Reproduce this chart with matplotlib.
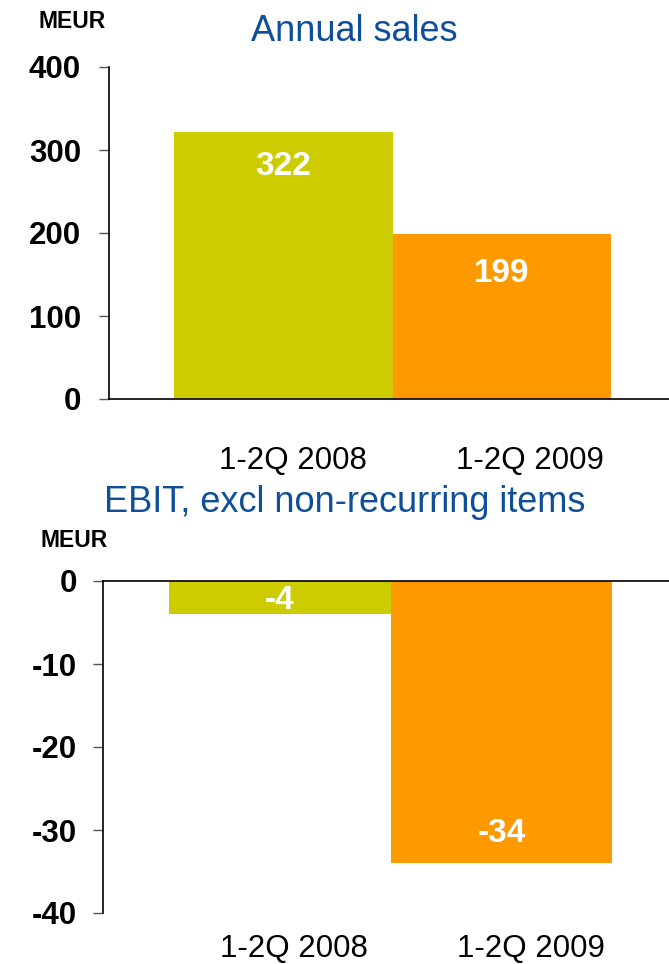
import matplotlib
matplotlib.use("Agg")
import matplotlib.pyplot as plt

# data
periods = ["1-2Q 2008", "1-2Q 2009"]
sales = [322, 199]
ebit = [-4, -34]
bar_colors = ["#CCCC00", "#FF9900"]
title_blue = "#0F4F9A"

plt.rcParams["font.family"] = ["Liberation Sans", "DejaVu Sans"]
plt.rcParams["axes.unicode_minus"] = False

W, H = 669, 964
fig = plt.figure(figsize=(W / 100, H / 100), dpi=100)


def box(left, right, top, bottom):
    # pixel box -> figure fraction
    return [left / W, 1 - bottom / H, (right - left) / W, (bottom - top) / H]


def style_axis(ax, pad):
    ax.spines["right"].set_visible(False)
    ax.spines["left"].set_linewidth(1.2)
    ax.tick_params(axis="y", length=7.2, width=1, color="#555555", pad=pad,
                   labelsize=22.5)
    for lab in ax.get_yticklabels():
        lab.set_fontweight("bold")
    ax.tick_params(axis="x", length=0, labelsize=22.5)


# ---- top: annual sales ----
ax1 = fig.add_axes(box(109, 669, 67, 399))
x = [0, 1]
ax1.bar(x, sales, width=1.0, color=bar_colors)
ax1.set_xlim(-0.797, 1.763)
ax1.set_ylim(0, 400)
ax1.set_yticks([0, 100, 200, 300, 400])
ax1.spines["top"].set_visible(False)
ax1.spines["bottom"].set_linewidth(1.2)
ax1.set_xticks([0.046, 1.128], periods)
style_axis(ax1, 13)
ax1.tick_params(axis="x", pad=34)
for xi, v, off in zip(x, sales, [-35, -40]):
    ax1.annotate(str(v), (xi, v), xytext=(0, off), textcoords="offset pixels",
                 ha="center", va="center", color="white", fontsize=24,
                 fontweight="bold")

fig.text(354 / W, 1 - 41 / H, "Annual sales", ha="center", va="baseline",
         fontsize=26, color=title_blue)
fig.text(38 / W, 1 - 28 / H, "MEUR", ha="left", va="baseline",
         fontsize=16.5, fontweight="bold")

# ---- bottom: EBIT ----
ax2 = fig.add_axes(box(103, 669, 581, 913))
ax2.bar(x, ebit, width=1.0, color=bar_colors)
ax2.set_xlim(-0.799, 1.756)
ax2.set_ylim(-40, 0)
ax2.set_yticks([0, -10, -20, -30, -40])
ax2.spines["bottom"].set_visible(False)
ax2.spines["top"].set_linewidth(1.2)
ax2.set_xticks([0.062, 1.133], periods)
style_axis(ax2, 11.5)
ax2.tick_params(axis="x", pad=15)
ax2.annotate(str(ebit[0]), (x[0], ebit[0] / 2), xytext=(0, -3),
             textcoords="offset pixels", ha="center", va="center",
             color="white", fontsize=24, fontweight="bold")
ax2.annotate(str(ebit[1]), (x[1], ebit[1]), xytext=(0, 30),
             textcoords="offset pixels", ha="center", va="center",
             color="white", fontsize=24, fontweight="bold")

fig.text(345 / W, 1 - 512 / H, "EBIT, excl non-recurring items", ha="center",
         va="baseline", fontsize=26, color=title_blue)
fig.text(40 / W, 1 - 547 / H, "MEUR", ha="left", va="baseline",
         fontsize=16.5, fontweight="bold")

fig.savefig("out.png", dpi=100)
